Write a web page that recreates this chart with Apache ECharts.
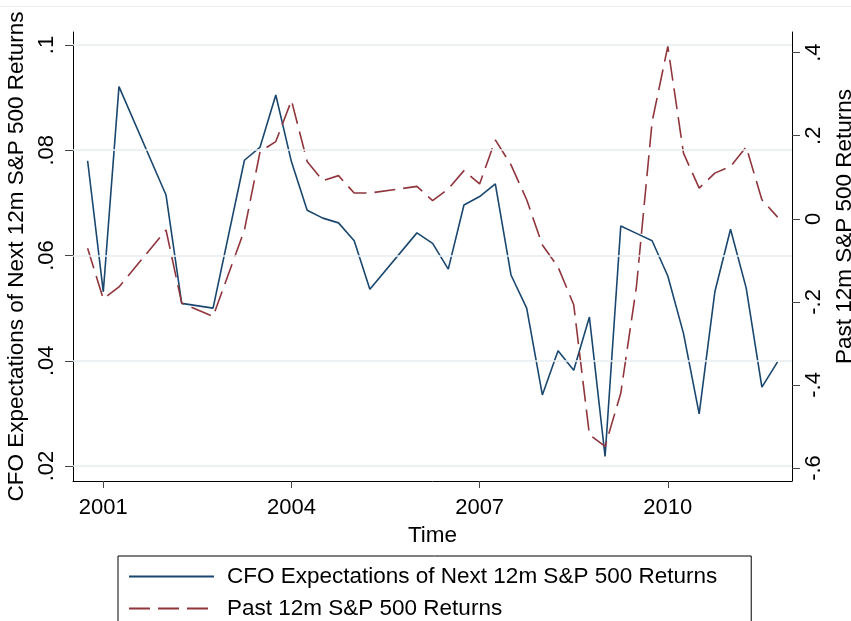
<!DOCTYPE html>
<html>
<head>
<meta charset="utf-8">
<script src="https://cdn.jsdelivr.net/npm/echarts@6/dist/echarts.min.js"></script>
<style>
  html, body { margin: 0; padding: 0; background: #fff; }
  #chart { width: 851px; height: 621px; }
</style>
</head>
<body>
<div id="chart"></div>
<script>
// ---- Data ----
const dates = [
  2000.75, 2001.0, 2001.25, 2002.0, 2002.25, 2002.75, 2003.25, 2003.5, 2003.75,
  2004.0, 2004.25, 2004.5, 2004.75, 2005.0, 2005.25, 2006.0, 2006.25, 2006.5,
  2006.75, 2007.0, 2007.25, 2007.5, 2007.75, 2008.0, 2008.25, 2008.5, 2008.75,
  2009.0, 2009.25, 2009.5, 2009.75, 2010.0, 2010.25, 2010.5, 2010.75, 2011.0,
  2011.25, 2011.5, 2011.75
];
const cfoExpectations = [
  0.0780, 0.0531, 0.0921, 0.0715, 0.0509, 0.0500, 0.0781, 0.0806, 0.0905,
  0.0778, 0.0686, 0.0671, 0.0662, 0.0628, 0.0536, 0.0643, 0.0623, 0.0574,
  0.0696, 0.0712, 0.0736, 0.0563, 0.0500, 0.0335, 0.0419, 0.0382, 0.0483,
  0.0218, 0.0656, 0.0642, 0.0628, 0.0561, 0.0452, 0.0299, 0.0531, 0.0650,
  0.0538, 0.0350, 0.0398
];
const pastReturns = [
  -0.071, -0.193, -0.164, -0.027, -0.203, -0.235, -0.027, 0.162, 0.186,
  0.285, 0.138, 0.092, 0.104, 0.062, 0.062, 0.078, 0.044, 0.072,
  0.116, 0.084, 0.190, 0.130, 0.046, -0.063, -0.116, -0.207, -0.520,
  -0.548, -0.420, -0.163, 0.234, 0.415, 0.158, 0.074, 0.110, 0.126,
  0.173, 0.046, 0.004
];
const leftTicks = [0.02, 0.04, 0.06, 0.08, 0.1];
const rightTicks = [-0.6, -0.4, -0.2, 0, 0.2, 0.4];
const xTicks = [2001, 2004, 2007, 2010];

const seriesNames = [
  'CFO Expectations of Next 12m S&P 500 Returns',
  'Past 12m S&P 500 Returns'
];

// ---- Helpers ----
function statafmt(v) {
  const s = parseFloat(Number(v).toFixed(4)).toString();
  return s.replace(/^(-?)0\./, '$1.');
}
const FONT = 'Liberation Sans, Arial, sans-serif';
const BLUE = '#1a476f';
const RED = '#90353b';

const chart = echarts.init(document.getElementById('chart'), null, { renderer: 'canvas' });

const option = {
  backgroundColor: '#ffffff',
  animation: false,
  textStyle: { fontFamily: FONT },
  graphic: [
    {
      type: 'line',
      silent: true,
      shape: { x1: 0, y1: 6.5, x2: 851, y2: 6.5 },
      style: { stroke: '#ececec', lineWidth: 1 }
    }
  ],
  grid: {
    left: 73, right: 59, top: 32, bottom: 140,
    containLabel: false,
    outerBoundsMode: 'none'
  },
  xAxis: {
    type: 'value',
    min: 2000.517,
    max: 2011.98,
    name: 'Time',
    nameLocation: 'middle',
    nameGap: 28,
    nameTextStyle: { fontSize: 22.5, color: '#000', fontFamily: FONT },
    axisLine: { show: true, onZero: false, lineStyle: { color: '#000', width: 1 } },
    axisTick: { show: true, length: 7, customValues: xTicks, lineStyle: { color: '#444' } },
    axisLabel: {
      show: true, customValues: xTicks, margin: 16,
      fontSize: 22, color: '#000', fontFamily: FONT,
      formatter: v => String(Math.round(v))
    },
    splitLine: { show: false }
  },
  yAxis: [
    {
      type: 'value',
      position: 'left',
      min: 0.01715,
      max: 0.10247,
      name: seriesNames[0],
      nameLocation: 'middle',
      nameRotate: 90,
      nameGap: 40,
      nameTextStyle: { fontSize: 22.5, color: '#000', fontFamily: FONT },
      axisLine: { show: true, onZero: false, lineStyle: { color: '#000', width: 1 } },
      axisTick: { show: true, length: 8, customValues: leftTicks, lineStyle: { color: '#444' } },
      axisLabel: {
        show: true, customValues: leftTicks, rotate: 90, margin: 15,
        fontSize: 22, color: '#000', fontFamily: FONT,
        formatter: statafmt
      },
      splitLine: { show: false }
    },
    {
      type: 'value',
      position: 'right',
      min: -0.6313,
      max: 0.4498,
      name: seriesNames[1],
      nameLocation: 'middle',
      nameRotate: 90,
      nameGap: 36,
      nameTextStyle: { fontSize: 22.5, color: '#000', fontFamily: FONT, padding: [0, 0, 0, 60] },
      axisLine: { show: true, onZero: false, lineStyle: { color: '#000', width: 1 } },
      axisTick: { show: true, length: 8, customValues: rightTicks, lineStyle: { color: '#444' } },
      axisLabel: {
        show: true, customValues: rightTicks, rotate: 90, margin: 11,
        fontSize: 22, color: '#000', fontFamily: FONT,
        formatter: statafmt
      },
      splitLine: { show: false }
    }
  ],
  legend: {
    show: true,
    data: seriesNames,
    orient: 'vertical',
    left: 118,
    top: 556,
    height: 200,
    padding: [9, 34, 30, 10],
    itemWidth: 85,
    itemHeight: 14,
    itemGap: 9,
    borderColor: '#000',
    borderWidth: 1,
    backgroundColor: '#fff',
    itemStyle: { opacity: 0 },
    textStyle: { fontSize: 22.5, color: '#000', fontFamily: FONT, padding: [0, 0, 0, 8] }
  },
  series: [
    {
      name: 'gridlines',
      type: 'line',
      yAxisIndex: 0,
      data: [],
      z: 1,
      silent: true,
      markLine: {
        silent: true,
        symbol: ['none', 'none'],
        label: { show: false },
        lineStyle: { color: '#e6eef1', width: 1.5, type: 'solid' },
        data: leftTicks.map(v => ({ yAxis: v }))
      }
    },
    {
      name: seriesNames[0],
      type: 'line',
      yAxisIndex: 0,
      symbol: 'none',
      showSymbol: false,
      z: 3,
      color: BLUE,
      lineStyle: { color: BLUE, width: 1.6 },
      data: dates.map((d, i) => [d, cfoExpectations[i]])
    },
    {
      name: seriesNames[1],
      type: 'line',
      yAxisIndex: 1,
      symbol: 'none',
      showSymbol: false,
      z: 4,
      color: RED,
      lineStyle: { color: RED, width: 1.6, type: [21, 8] },
      data: dates.map((d, i) => [d, pastReturns[i]])
    }
  ]
};
chart.setOption(option);
</script>
</body>
</html>
